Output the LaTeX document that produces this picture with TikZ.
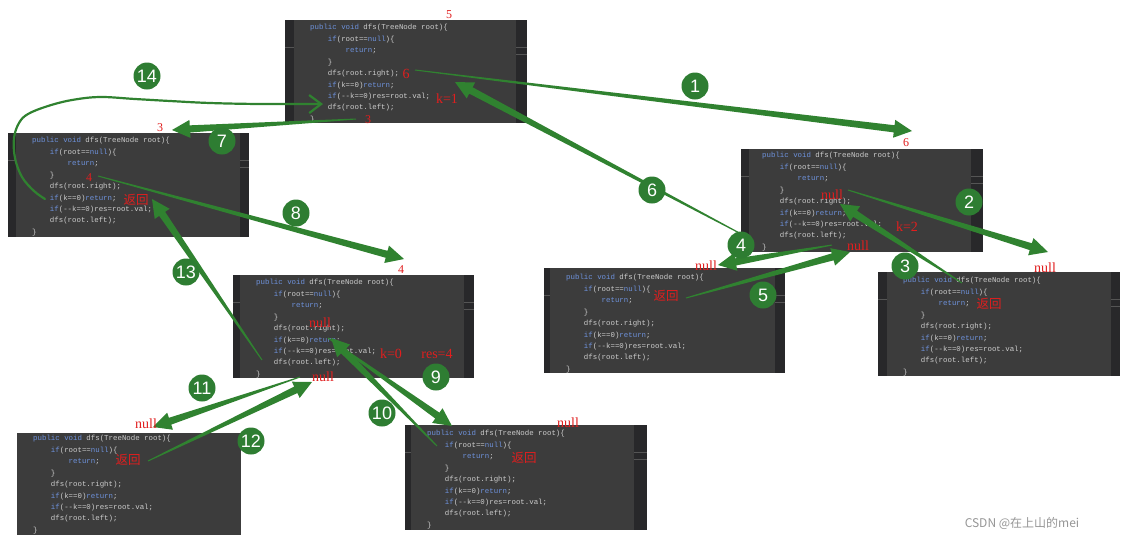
\documentclass[tikz,border=0pt]{standalone}
\usepackage{fontspec}
\setmainfont{Liberation Serif}
\setsansfont{Liberation Sans}
\newfontfamily\codefont{Liberation Mono}
\newfontfamily\cjk{Noto Sans CJK SC}
\usetikzlibrary{calc,arrows.meta}
\definecolor{cgreen}{RGB}{46,125,50}
\definecolor{agreen}{RGB}{48,130,48}
\definecolor{boxdark}{RGB}{40,40,42}
\definecolor{boxgray}{RGB}{60,60,60}
\definecolor{kwblue}{RGB}{110,146,220}
\definecolor{codegray}{RGB}{205,205,205}
\definecolor{labred}{RGB}{225,30,30}
\definecolor{gutline}{RGB}{85,85,85}
\definecolor{wmgray}{RGB}{150,150,150}
\newcommand\kw[1]{\textcolor{kwblue}{#1}}
\newcommand\ind{\phantom{xxxx}}
\newcommand\codelines{%
\kw{public void} dfs(TreeNode root)\{\\
\ind\kw{if}(root==\kw{null})\{\\
\ind\ind\kw{return};\\
\ind\}\\
\ind dfs(root.right);\\
\ind\kw{if}(k==0)\kw{return};\\
\ind\kw{if}(-{}-k==0)res=root.val;\\
\ind dfs(root.left);\\
\}}
\tikzset{
  code/.style={anchor=north west, inner sep=0pt, align=left, text=codegray,
    font=\codefont\fontsize{7.4}{11.45}\selectfont},
  lab/.style={text=labred, inner sep=0pt, font=\fontsize{14}{14}\selectfont},
  slab/.style={text=labred, inner sep=0pt, font=\fontsize{12}{12}\selectfont},
  cnlab/.style={text=labred, inner sep=0pt, font=\cjk\fontsize{12.5}{12.5}\selectfont},
  circ/.style={circle, fill=cgreen, text=white, minimum size=27pt, inner sep=0pt,
    font=\sffamily\fontsize{18}{18}\selectfont},
  curve/.style={draw=agreen, line width=2.2pt, line cap=round, line join=round},
}
% code box: name, outer x0,y0,x1,y1, inner x0,x1, text x, first line y
\newcommand\codebox[9]{%
  \fill[boxdark] (#2,#3) rectangle (#4,#5);
  \fill[boxgray] (#6,#3) rectangle (#7,#5);
  \draw[gutline, line width=0.6pt] (#2,#3+27) -- (#6,#3+27);
  \draw[gutline, line width=0.6pt] (#7,#3+27) -- (#4,#3+27);
  \draw[gutline, line width=0.6pt] (#7,#3+34) -- (#4,#3+34);
  \node[code] (#1) at (#8,#9-3.8) {\codelines};
}
% tapered arrow from #1 to #2
\newcommand\tarr[2]{%
  \coordinate (tb) at ($(#2)!18pt!(#1)$);
  \fill[agreen] ($(#1)!0.5pt!90:(#2)$) -- ($(tb)!3.6pt!90:(#2)$) -- ($(tb)!9pt!90:(#2)$)
    -- (#2) -- ($(tb)!9pt!-90:(#2)$) -- ($(tb)!3.6pt!-90:(#2)$) -- ($(#1)!0.5pt!-90:(#2)$) -- cycle;
}
\begin{document}
\begin{tikzpicture}[x=1pt,y=-1pt]
\useasboundingbox (0,0) rectangle (1128,542);
\fill[white] (0,0) rectangle (1128,542);
% boxes
\codebox{bA}{285}{20}{527}{123}{294}{516}{310}{28}
\codebox{bB}{8}{133}{249}{237}{16}{240}{32}{141}
\codebox{bC}{741}{149}{983}{252}{749}{971}{762}{156}
\codebox{bD}{544}{268}{785}{373}{550}{775}{566}{278}
\codebox{bE}{878}{272}{1120}{376}{887}{1111}{903}{281}
\codebox{bF}{233}{275}{474}{378}{240}{464}{256}{283}
\codebox{bG}{17}{433}{241}{535}{17}{241}{33}{439}
\codebox{bH}{405}{425}{647}{530}{411}{634}{427}{434}
% arrow end points
\coordinate (a1s) at (415,70);   \coordinate (a1e) at (912,131);
\coordinate (a2s) at (848,190);  \coordinate (a2e) at (1048,252);
\coordinate (a3s) at (962,283);  \coordinate (a3e) at (840,204);
\coordinate (a4s) at (832,245);  \coordinate (a4e) at (718,265);
\coordinate (a5s) at (686,298);  \coordinate (a5e) at (850,252);
\coordinate (a6s) at (745,236);  \coordinate (a6e) at (455,82);
\coordinate (a7s) at (356,119);  \coordinate (a7e) at (172,130);
\coordinate (a8s) at (98,176);   \coordinate (a8e) at (404,259);
\coordinate (a9s) at (328,338);  \coordinate (a9e) at (452,426);
\coordinate (a10s) at (437,446); \coordinate (a10e) at (331,338);
\coordinate (a11s) at (300,377); \coordinate (a11e) at (153,427);
\coordinate (a12s) at (148,461); \coordinate (a12e) at (312,382);
\coordinate (a13s) at (262,360); \coordinate (a13e) at (152,199);
\coordinate (c14s) at (45,199);  \coordinate (c14e) at (323,104);
% arrows
\tarr{a1s}{a1e}
\tarr{a2s}{a2e}
\tarr{a3s}{a3e}
\tarr{a4s}{a4e}
\tarr{a5s}{a5e}
\tarr{a6s}{a6e}
\tarr{a7s}{a7e}
\tarr{a8s}{a8e}
\tarr{a9s}{a9e}
\tarr{a10s}{a10e}
\tarr{a11s}{a11e}
\tarr{a12s}{a12e}
\tarr{a13s}{a13e}
\draw[curve, -{Straight Barb[length=12pt,width=18pt]}] plot[smooth, tension=0.6] coordinates
  {(c14s) (34,191) (22,177) (15,158) (14,138) (19,123) (28,114) (48,106) (72,100) (100,97)
   (135,99) (170,101) (210,103) (260,104) (c14e)};
% red labels
\node[slab] (lA5) at (449,15) {5};
\node[lab] (lA6) at (406,74) {6};
\node[lab] (lAk) at (447,99) {k=1};
\node[slab] (lA3) at (368,120) {3};
\node[slab] (lB3) at (160,128) {3};
\node[slab] (lB4) at (89,178) {4};
\node[cnlab] (lBr) at (136,200) {返回};
\node[slab] (lC6) at (906,143) {6};
\node[lab] (lCn1) at (832,195) {null};
\node[lab] (lCk) at (907,227) {k=2};
\node[lab] (lCn2) at (858,246) {null};
\node[lab] (lDn) at (706,266) {null};
\node[cnlab] (lDr) at (666,296) {返回};
\node[lab] (lEn) at (1045,268) {null};
\node[cnlab] (lEr) at (989,304) {返回};
\node[slab] (lF4) at (401,270) {4};
\node[lab] (lFn1) at (320,323) {null};
\node[lab] (lFk) at (391,354) {k=0};
\node[lab] (lFr) at (437,354) {res=4};
\node[lab] (lFn2) at (323,377) {null};
\node[lab] (lGn) at (146,424) {null};
\node[cnlab] (lGr) at (128,460) {返回};
\node[lab] (lHn) at (568,423) {null};
\node[cnlab] (lHr) at (524,458) {返回};
% step circles
\node[circ] (n1) at (695,86) {1};
\node[circ] (n2) at (969,202) {2};
\node[circ] (n3) at (905,266) {3};
\node[circ] (n4) at (741,245) {4};
\node[circ] (n5) at (763,295) {5};
\node[circ] (n6) at (652,190) {6};
\node[circ] (n7) at (222,141) {7};
\node[circ] (n8) at (296,213) {8};
\node[circ] (n9) at (436,377) {9};
\node[circ] (n10) at (382,413) {10};
\node[circ] (n11) at (202,388) {11};
\node[circ] (n12) at (251,441) {12};
\node[circ] (n13) at (186,272) {13};
\node[circ] (n14) at (147,76) {14};
% watermark
\node[text=wmgray, inner sep=0pt, font=\cjk\fontsize{12}{12}\selectfont] (wm) at (1022,523) {CSDN @在上山的mei};
\end{tikzpicture}
\end{document}
